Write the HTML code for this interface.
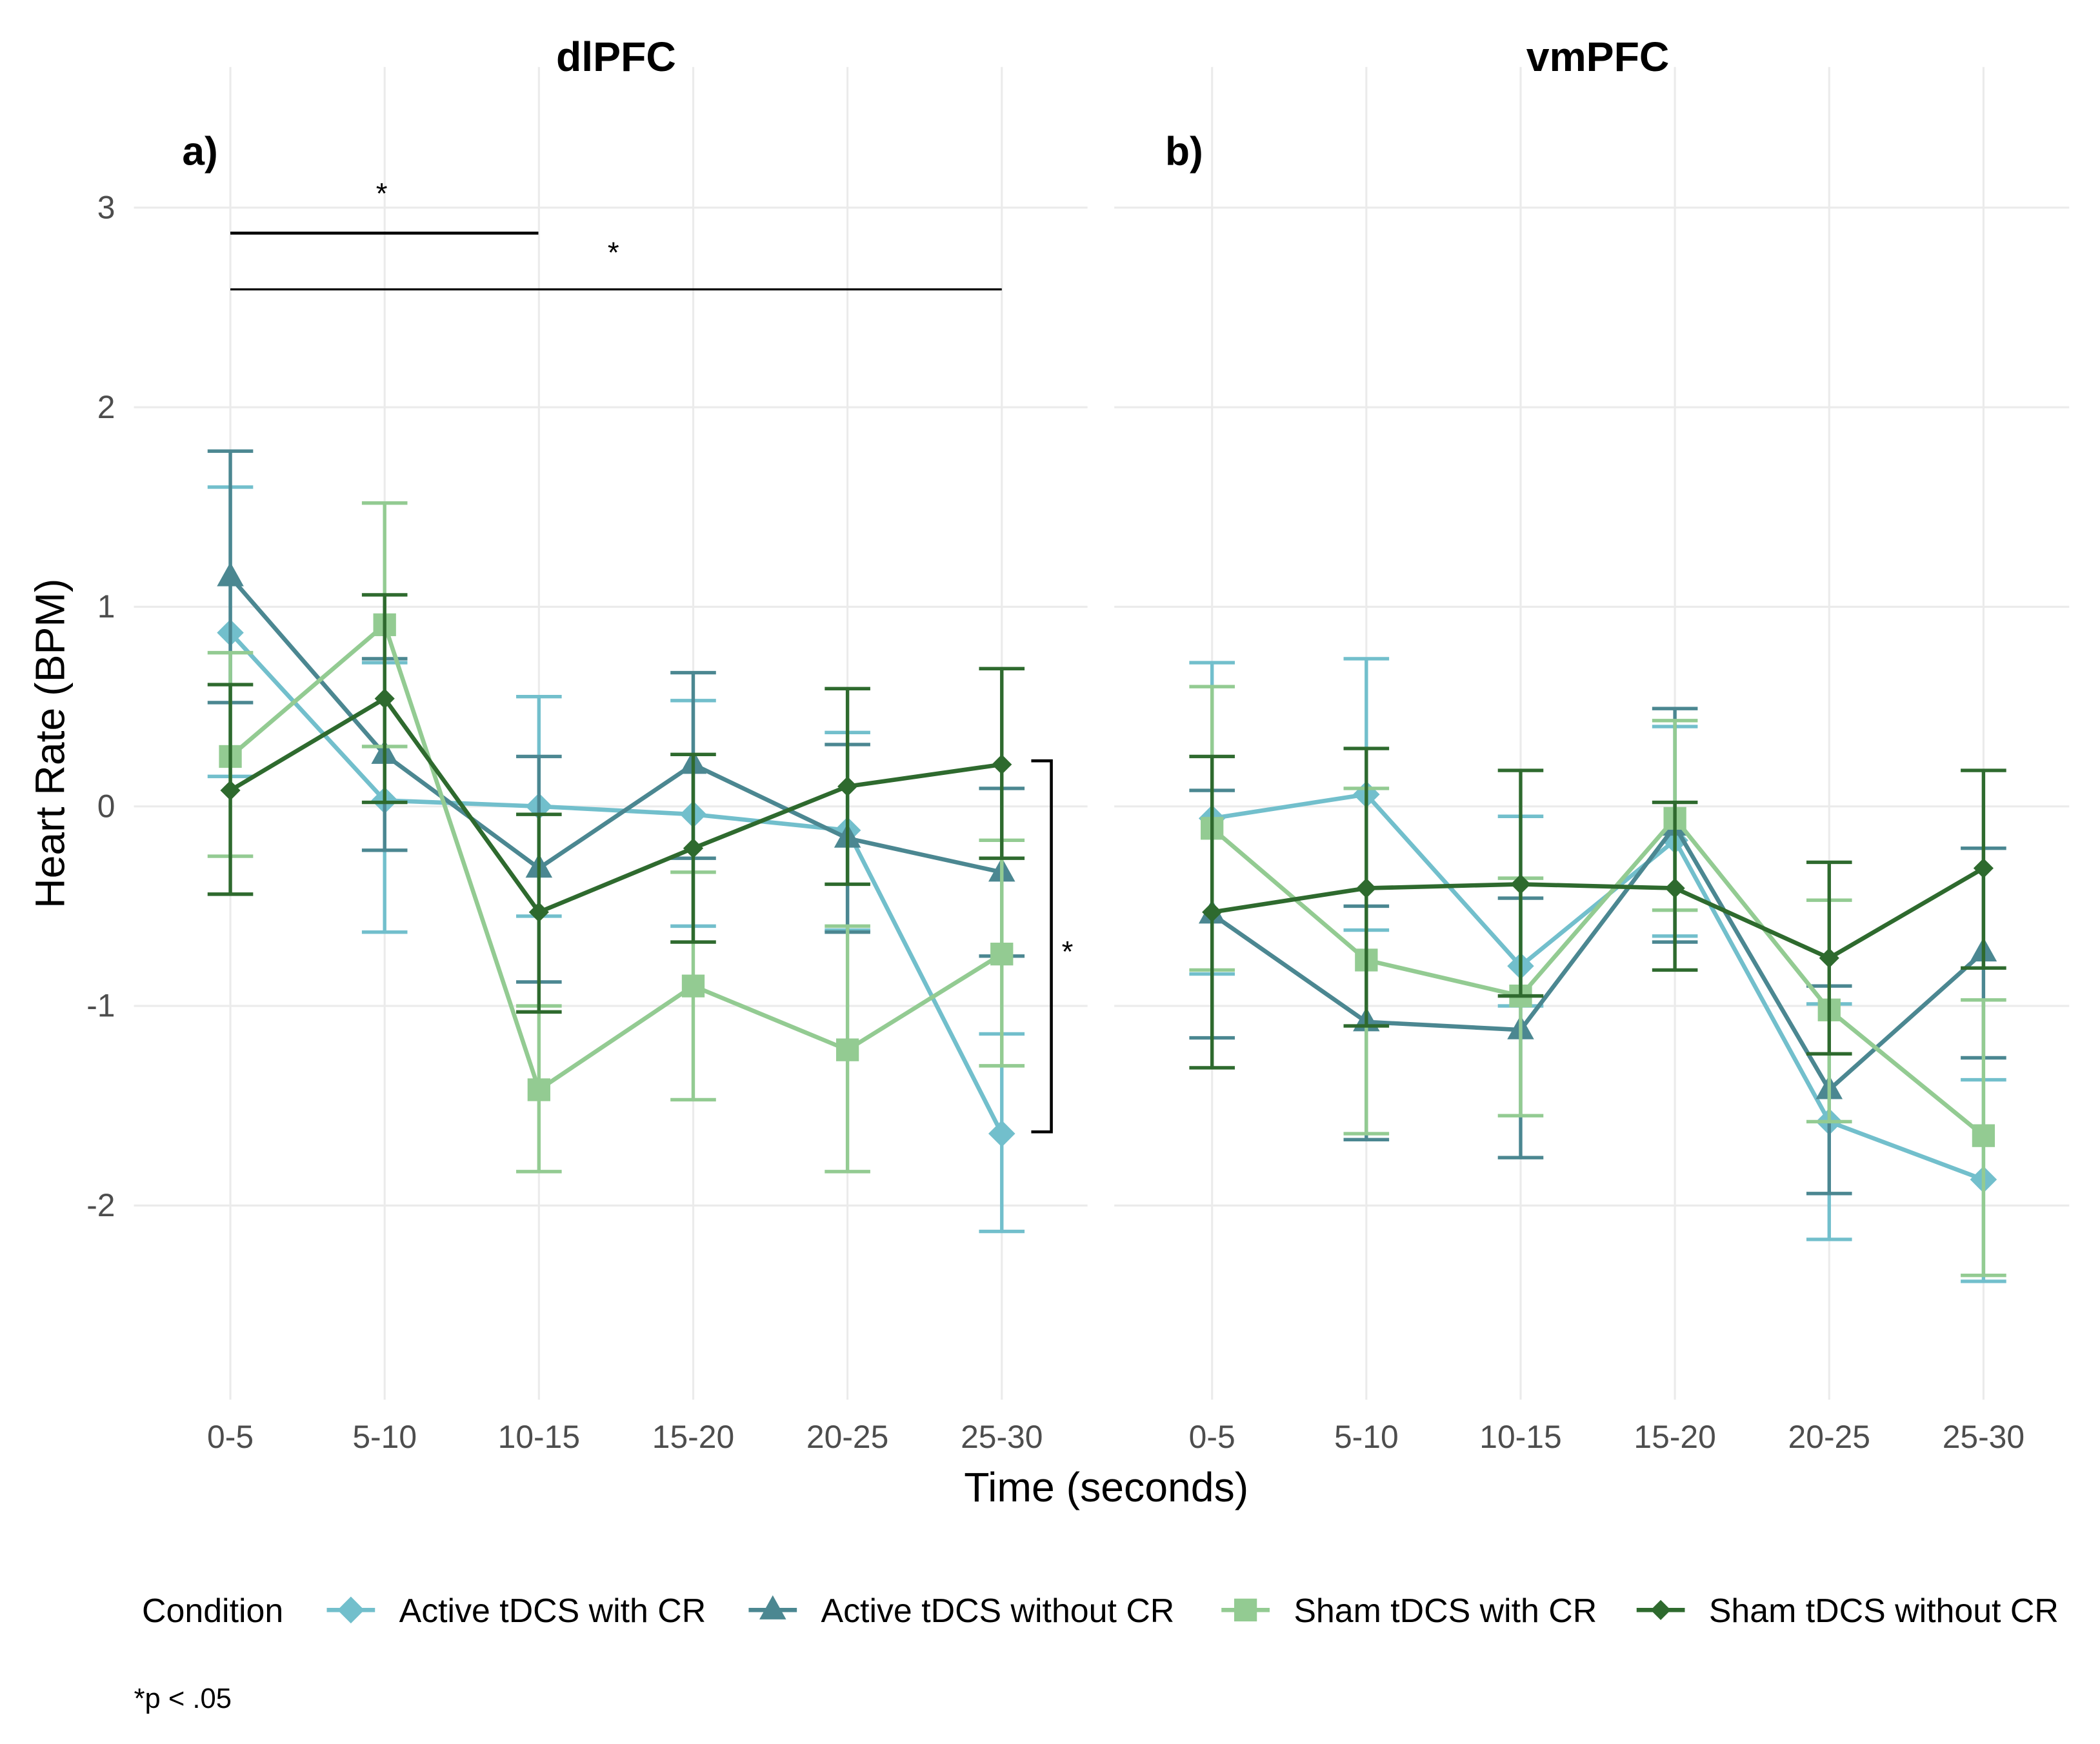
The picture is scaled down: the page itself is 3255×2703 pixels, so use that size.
<!DOCTYPE html>
<html><head><meta charset="utf-8"><style>
html,body{margin:0;padding:0;background:#fff}
svg{display:block;font-family:"Liberation Sans",sans-serif}
</style></head><body>
<svg id="chart" width="3255" height="2703" viewBox="0 0 1568 1302" xmlns="http://www.w3.org/2000/svg">
<rect width="1568" height="1302" fill="#fff"/>
<g id="grid"></g>
<g id="plot"></g>
<text x="460" y="53" font-size="31" font-weight="bold" text-anchor="middle">dlPFC</text>
<text x="1193" y="53" font-size="31" font-weight="bold" text-anchor="middle">vmPFC</text>
<text x="136" y="123" font-size="30" font-weight="bold">a)</text>
<text x="870" y="123" font-size="30" font-weight="bold">b)</text>
<text transform="translate(48,555) rotate(-90)" font-size="31" text-anchor="middle">Heart Rate (BPM)</text>
<text x="826" y="1121" font-size="31" text-anchor="middle">Time (seconds)</text>
<g id="sig" stroke="#000" stroke-width="2.2" fill="none">
<line x1="172" y1="174" x2="402" y2="174"/>
<line x1="172" y1="216" x2="748" y2="216" stroke-width="1.6"/>
<polyline points="770,568 785,568 785,845 770,845"/>
</g>
<text x="285" y="152" font-size="22" text-anchor="middle">*</text>
<text x="458" y="196" font-size="22" text-anchor="middle">*</text>
<text x="797" y="718" font-size="22" text-anchor="middle">*</text>
<g id="legend"></g>
<text x="100" y="1275" font-size="21">*p &lt; .05</text>
</svg>
<script>
const categories = ["0-5","5-10","10-15","15-20","20-25","25-30"];
const yTicks = [3,2,1,0,-1,-2];
const seriesNames = ["Active tDCS with CR","Active tDCS without CR","Sham tDCS with CR","Sham tDCS without CR"];
const colors = ["#72bfcc","#4b8791","#93cb92","#2e6a2e"];
const shapes = ["diamond","triangle","square","diamondSmall"];
// dlPFC
const dl_activeCR = [0.87,0.03,0.00,-0.04,-0.12,-1.64];
const dl_activeCR_lo = [0.15,-0.63,-0.55,-0.60,-0.62,-2.13];
const dl_activeCR_hi = [1.60,0.72,0.55,0.53,0.37,-1.14];
const dl_activeNo = [1.15,0.26,-0.31,0.21,-0.16,-0.33];
const dl_activeNo_lo = [0.52,-0.22,-0.88,-0.26,-0.63,-0.75];
const dl_activeNo_hi = [1.78,0.74,0.25,0.67,0.31,0.09];
const dl_shamCR = [0.25,0.91,-1.42,-0.90,-1.22,-0.74];
const dl_shamCR_lo = [-0.25,0.30,-1.83,-1.47,-1.83,-1.30];
const dl_shamCR_hi = [0.77,1.52,-1.00,-0.33,-0.60,-0.17];
const dl_shamNo = [0.08,0.54,-0.53,-0.21,0.10,0.21];
const dl_shamNo_lo = [-0.44,0.02,-1.03,-0.68,-0.39,-0.26];
const dl_shamNo_hi = [0.61,1.06,-0.04,0.26,0.59,0.69];
// vmPFC
const vm_activeCR = [-0.06,0.06,-0.80,-0.17,-1.58,-1.87];
const vm_activeCR_lo = [-0.84,-0.62,-1.00,-0.65,-2.17,-2.38];
const vm_activeCR_hi = [0.72,0.74,-0.05,0.40,-0.99,-1.37];
const vm_activeNo = [-0.54,-1.08,-1.12,-0.10,-1.42,-0.73];
const vm_activeNo_lo = [-1.16,-1.67,-1.76,-0.68,-1.94,-1.26];
const vm_activeNo_hi = [0.08,-0.50,-0.46,0.49,-0.90,-0.21];
const vm_shamCR = [-0.11,-0.77,-0.95,-0.06,-1.02,-1.65];
const vm_shamCR_lo = [-0.82,-1.64,-1.55,-0.52,-1.58,-2.35];
const vm_shamCR_hi = [0.60,0.09,-0.36,0.43,-0.47,-0.97];
const vm_shamNo = [-0.53,-0.41,-0.39,-0.41,-0.76,-0.31];
const vm_shamNo_lo = [-1.31,-1.10,-0.95,-0.82,-1.24,-0.81];
const vm_shamNo_hi = [0.25,0.29,0.18,0.02,-0.28,0.18];

const NS="http://www.w3.org/2000/svg";
function mk(tag,attrs,parent){const e=document.createElementNS(NS,tag);for(const k in attrs)e.setAttribute(k,attrs[k]);parent.appendChild(e);return e;}
const yScale=v=>602-149*v;
const panels=[
 {name:"dlpfc",x0:172,gx:[100,812],data:[[dl_activeCR,dl_activeCR_lo,dl_activeCR_hi],[dl_activeNo,dl_activeNo_lo,dl_activeNo_hi],[dl_shamCR,dl_shamCR_lo,dl_shamCR_hi],[dl_shamNo,dl_shamNo_lo,dl_shamNo_hi]]},
 {name:"vmpfc",x0:905,gx:[832,1545],data:[[vm_activeCR,vm_activeCR_lo,vm_activeCR_hi],[vm_activeNo,vm_activeNo_lo,vm_activeNo_hi],[vm_shamCR,vm_shamCR_lo,vm_shamCR_hi],[vm_shamNo,vm_shamNo_lo,vm_shamNo_hi]]}
];
const step=115.2;
const grid=document.getElementById('grid'), plot=document.getElementById('plot');
function marker(shape,x,y,c,parent){
 let e;
 if(shape==="diamond") e=mk('polygon',{points:`${x},${y-10} ${x+10},${y} ${x},${y+10} ${x-10},${y}`,fill:c},parent);
 else if(shape==="diamondSmall") e=mk('polygon',{points:`${x},${y-7.5} ${x+7.5},${y} ${x},${y+7.5} ${x-7.5},${y}`,fill:c},parent);
 else if(shape==="triangle") e=mk('polygon',{points:`${x},${y-11} ${x+10},${y+7} ${x-10},${y+7}`,fill:c},parent);
 else e=mk('rect',{x:x-8.5,y:y-8.5,width:17,height:17,fill:c},parent);
 return e;
}
panels.forEach(p=>{
 const xs=i=>p.x0+i*step;
 yTicks.forEach(t=>{
  const l=mk('line',{x1:p.gx[0],x2:p.gx[1],y1:yScale(t),y2:yScale(t),stroke:"#ebebeb","stroke-width":1.5},grid);
  
  
 });
 categories.forEach((c,i)=>{
  const l=mk('line',{x1:xs(i),x2:xs(i),y1:50,y2:1045,stroke:"#ebebeb","stroke-width":1.5},grid);
  
  
  const t=mk('text',{x:xs(i),y:1081,"font-size":24,fill:"#4d4d4d","text-anchor":"middle"},grid);
  t.textContent=c;
  
  
 });
 p.data.forEach((s,si)=>{
  const [vals,lo,hi]=s; const c=colors[si];
  const g=mk('g',{},plot);
  
  
  vals.forEach((v,i)=>{
   const x=xs(i);
   const e=mk('path',{d:`M${x},${yScale(lo[i])}V${yScale(hi[i])}M${x-17},${yScale(lo[i])}H${x+17}M${x-17},${yScale(hi[i])}H${x+17}`,stroke:c,"stroke-width":2.6,fill:"none"},g);
   
   
  });
  const ln=mk('polyline',{points:vals.map((v,i)=>xs(i)+","+yScale(v)).join(" "),stroke:c,"stroke-width":3.2,fill:"none"},g);
  
  
  vals.forEach((v,i)=>{
   const m=marker(shapes[si],xs(i),yScale(v),c,g);
   
   
  });
 });
});
yTicks.forEach(t=>{
 const e=mk('text',{x:86,y:yScale(t)+8,"font-size":24,fill:"#4d4d4d","text-anchor":"end"},grid);
 e.textContent=String(t);
 
 
});
const lg=document.getElementById('legend');
const lt=mk('text',{x:106,y:1211,"font-size":25},lg);
lt.textContent="Condition";


const lx=[262,577,930,1240];
seriesNames.forEach((n,i)=>{
 const g=mk('g',{},lg);
 
 
 mk('line',{x1:lx[i]-18,x2:lx[i]+18,y1:1202,y2:1202,stroke:colors[i],"stroke-width":3.2},g);
 marker(shapes[i],lx[i],1202,colors[i],g);
 const t=mk('text',{x:lx[i]+36,y:1211,"font-size":25},g);
 t.textContent=n;
});
</script>
</body></html>
